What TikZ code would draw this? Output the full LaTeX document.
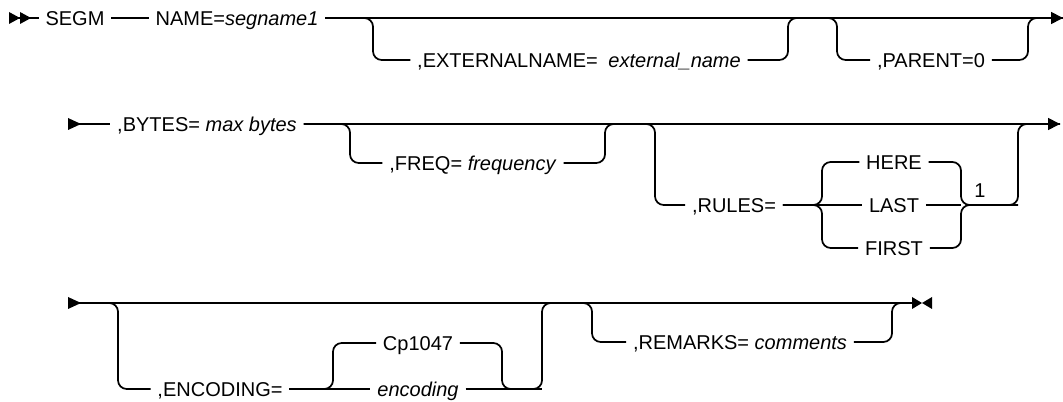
\documentclass[tikz,border=0pt]{standalone}
\usepackage{fontspec}
\setmainfont{Liberation Sans}
\usetikzlibrary{arrows.meta, positioning}

\begin{document}
\begin{tikzpicture}[x=0.75pt, y=-0.75pt,
  kw/.style={font=\fontsize{15}{18}\selectfont, inner xsep=5pt, inner ysep=0pt,
             text height=14pt, text depth=3.2pt},
  track/.style={line width=1.3pt, rounded corners=6.5pt},
  endtip/.style={-{Triangle[length=9pt, width=9pt]}}
]
  \useasboundingbox (0,0) rectangle (1063,402);

  % first line
  \coordinate (s1) at (9,18);
  \coordinate (e1) at (1063,18);
  \coordinate (extin) at (373,18);
  \coordinate (extout) at (788,18);
  \coordinate (parentin) at (837,18);
  \coordinate (parentout) at (1028,18);
  \node[kw] (segm) at (75,18) {SEGM};
  \node[kw] (name) at (237,18) {NAME=\textit{segname1}};
  \node[kw] (ext) at (579,60) {,EXTERNALNAME=\hspace{8pt}\textit{external\_name}};
  \node[kw] (parent) at (931,60) {,PARENT=0};

  \fill (s1) ++(0,-6) -- ++(11,6) -- ++(-11,6) -- cycle;
  \fill (s1) ++(11,-6) -- ++(11,6) -- ++(-11,6) -- cycle;
  \draw[track] (s1) -- (segm.west);
  \draw[track] (segm.east) -- (name.west);
  \draw[track, endtip] (name.east) -- (e1);
  \draw[track] (name.east) -- (extin) |- (ext.west);
  \draw[track] (ext.east) -| (extout) -- (parentin) |- (parent.west);
  \draw[track] (parent.east) -| (parentout) -- (e1);

  % second line
  \coordinate (s2) at (68,124);
  \coordinate (e2) at (1060,124);
  \coordinate (freqin) at (350,124);
  \coordinate (freqout) at (605,124);
  \coordinate (rulesin) at (655,124);
  \coordinate (rulesout) at (1018,124);
  \coordinate (bracel) at (822,205);
  \coordinate (bracer) at (961,205);
  \node[kw] (bytes) at (207,124) {,BYTES= \textit{max bytes}};
  \node[kw] (freq) at (473,163) {,FREQ= \textit{frequency}};
  \node[kw] (rules) at (734,205) {,RULES=};
  \node[kw] (here) at (894,162) {HERE};
  \node[kw] (last) at (894,205) {LAST};
  \node[kw] (first) at (894,248) {FIRST};
  \node[kw] (fn1) at (980,190) {1};

  \fill (s2) ++(0,-6) -- ++(13,6) -- ++(-13,6) -- cycle;
  \draw[track] (s2) -- (bytes.west);
  \draw[track, endtip] (bytes.east) -- (e2);
  \draw[track] (bytes.east) -- (freqin) |- (freq.west);
  \draw[track] (freq.east) -| (freqout) -- (rulesin) |- (rules.west);
  \draw[track] (rules.east) -- (last.west);
  \draw[track] (rules.east) -- (bracel) |- (here.west);
  \draw[track] (rules.east) -- (bracel) |- (first.west);
  \draw[track] (here.east) -| (bracer) -- (rulesout |- bracer) -- (rulesout) -- (e2);
  \draw[track] (first.east) -| (bracer) -- (rulesout |- bracer);
  \draw[track] (last.east) -- (bracer);

  % third line
  \coordinate (s3) at (68,303);
  \coordinate (t3) at (912,303);
  \coordinate (encin) at (118,303);
  \coordinate (encsplit) at (333,389);
  \coordinate (encjoin) at (502,389);
  \coordinate (encout) at (542,303);
  \coordinate (remin) at (592,303);
  \coordinate (remout) at (892,303);
  \node[kw] (enc) at (220,389) {,ENCODING=};
  \node[kw] (cp) at (418,343) {Cp1047};
  \node[kw] (encv) at (418,389) {\textit{encoding}};
  \node[kw] (rem) at (740,342) {,REMARKS= \textit{comments}};

  \fill (s3) ++(0,-6) -- ++(13,6) -- ++(-13,6) -- cycle;
  \draw[track] (s3) -- (t3);
  \fill (t3) ++(0,-6) -- ++(10,6) -- ++(-10,6) -- cycle;
  \fill (t3) ++(20,-6) -- ++(-10,6) -- ++(10,6) -- cycle;
  \draw[track] (s3) -- (encin) |- (enc.west);
  \draw[track] (enc.east) -- (encv.west);
  \draw[track] (enc.east) -- (encsplit) |- (cp.west);
  \draw[track] (cp.east) -| (encjoin) -- (encout |- encjoin) -- (encout) -- (remin);
  \draw[track] (encv.east) -- (encout |- encjoin);
  \draw[track] (s3) -- (remin) |- (rem.west);
  \draw[track] (rem.east) -| (remout) -- (t3);
\end{tikzpicture}
\end{document}
